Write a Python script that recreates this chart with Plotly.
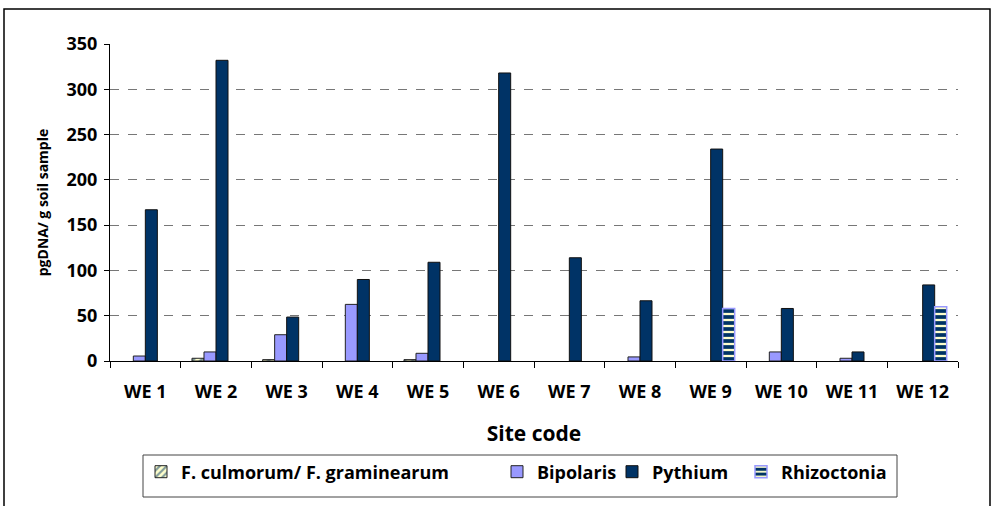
import plotly.graph_objects as go

# Site codes and pathogen DNA concentrations (pg DNA per g soil); None = not detected
sites = ["WE 1", "WE 2", "WE 3", "WE 4", "WE 5", "WE 6",
         "WE 7", "WE 8", "WE 9", "WE 10", "WE 11", "WE 12"]
fusarium = [None, 3, 1.5, None, 1.5, None, None, None, None, None, None, None]
bipolaris = [5.5, 10, 29, 62.5, 8.5, None, None, 4.5, None, 10, 3, None]
pythium = [167, 332, 48.5, 90, 109, 318, 114, 66.5, 234, 58, 10, 84]
rhizoctonia = [None, None, None, None, None, None, None, None, 58, None, None, 60]

y_ticks = [0, 50, 100, 150, 200, 250, 300, 350]

W, H = 994, 506
L, R, T, B = 110, 36, 44, 145
PW, PH = W - L - R, H - T - B

def px(x):
    return (x - L) / PW

def py(y):
    return (H - B - y) / PH

FONT = "Open Sans"
NAVY = "#003366"
LAV = "#9999FF"
CREAM = "#FFFFCC"

fig = go.Figure()
fig.add_trace(go.Bar(
    x=sites, y=fusarium, name="F. culmorum/ F. graminearum",
    marker=dict(color=CREAM, line=dict(color="#222222", width=1),
                pattern=dict(shape="/", fgcolor=NAVY, bgcolor=CREAM, size=6, solidity=0.45)),
    legend="legend",
))
fig.add_trace(go.Bar(
    x=sites, y=bipolaris, name="Bipolaris",
    marker=dict(color=LAV, line=dict(color="#222222", width=1)),
    legend="legend2",
))
fig.add_trace(go.Bar(
    x=sites, y=pythium, name="Pythium",
    marker=dict(color=NAVY, line=dict(color="#111111", width=1)),
    legend="legend3",
))
fig.add_trace(go.Bar(
    x=sites, y=rhizoctonia, name="Rhizoctonia",
    marker=dict(color=CREAM, line=dict(color=LAV, width=1.5),
                pattern=dict(shape="-", fgcolor=NAVY, bgcolor=CREAM, size=6, solidity=0.62,
                             fgopacity=1)),
    legend="legend4",
))

leg_common = dict(
    orientation="h", yanchor="middle", y=py(472), xanchor="left",
    font=dict(family=FONT, size=18, color="black", weight="bold"),
    bgcolor="rgba(0,0,0,0)", borderwidth=0, itemwidth=30,
)

fig.update_layout(
    width=W, height=H,
    margin=dict(l=L, r=R, t=T, b=B),
    paper_bgcolor="white", plot_bgcolor="white",
    barmode="group", bargap=0.32, bargroupgap=0,
    showlegend=True,
    legend=dict(x=px(141), **leg_common),
    legend2=dict(x=px(497), **leg_common),
    legend3=dict(x=px(612), **leg_common),
    legend4=dict(x=px(741), **leg_common),
    font=dict(family=FONT, color="black"),
    xaxis=dict(
        tickson="boundaries", ticks="outside", ticklen=6, tickcolor="black",
        showline=True, linecolor="black", linewidth=1,
        tickfont=dict(family=FONT, size=18, weight="bold"),
        ticklabelstandoff=14,
        title=dict(text="Site code", font=dict(family=FONT, size=21, weight="bold"), standoff=24),
        showgrid=False,
    ),
    yaxis=dict(
        range=[0, 350], tickvals=y_ticks, ticks="outside", ticklen=5, tickcolor="black",
        showline=True, linecolor="black", linewidth=1,
        tickfont=dict(family=FONT, size=18, weight="bold"),
        ticklabelstandoff=3,
        title=dict(text="pgDNA/ g soil sample", font=dict(family=FONT, size=14, weight="bold"), standoff=14),
        showgrid=True, gridcolor="#777777", griddash="dash", gridwidth=1,
        zeroline=False,
    ),
    shapes=[
        # outer frame of the figure
        dict(type="rect", xref="paper", yref="paper",
             x0=px(4), x1=px(990), y0=py(520), y1=py(9),
             line=dict(color="black", width=1.5), fillcolor="rgba(0,0,0,0)", layer="below"),
        # legend box
        dict(type="rect", xref="paper", yref="paper",
             x0=px(143), x1=px(897), y0=py(497), y1=py(455),
             line=dict(color="#444444", width=1), fillcolor="rgba(0,0,0,0)"),
    ],
)

fig.write_html("out.html")
